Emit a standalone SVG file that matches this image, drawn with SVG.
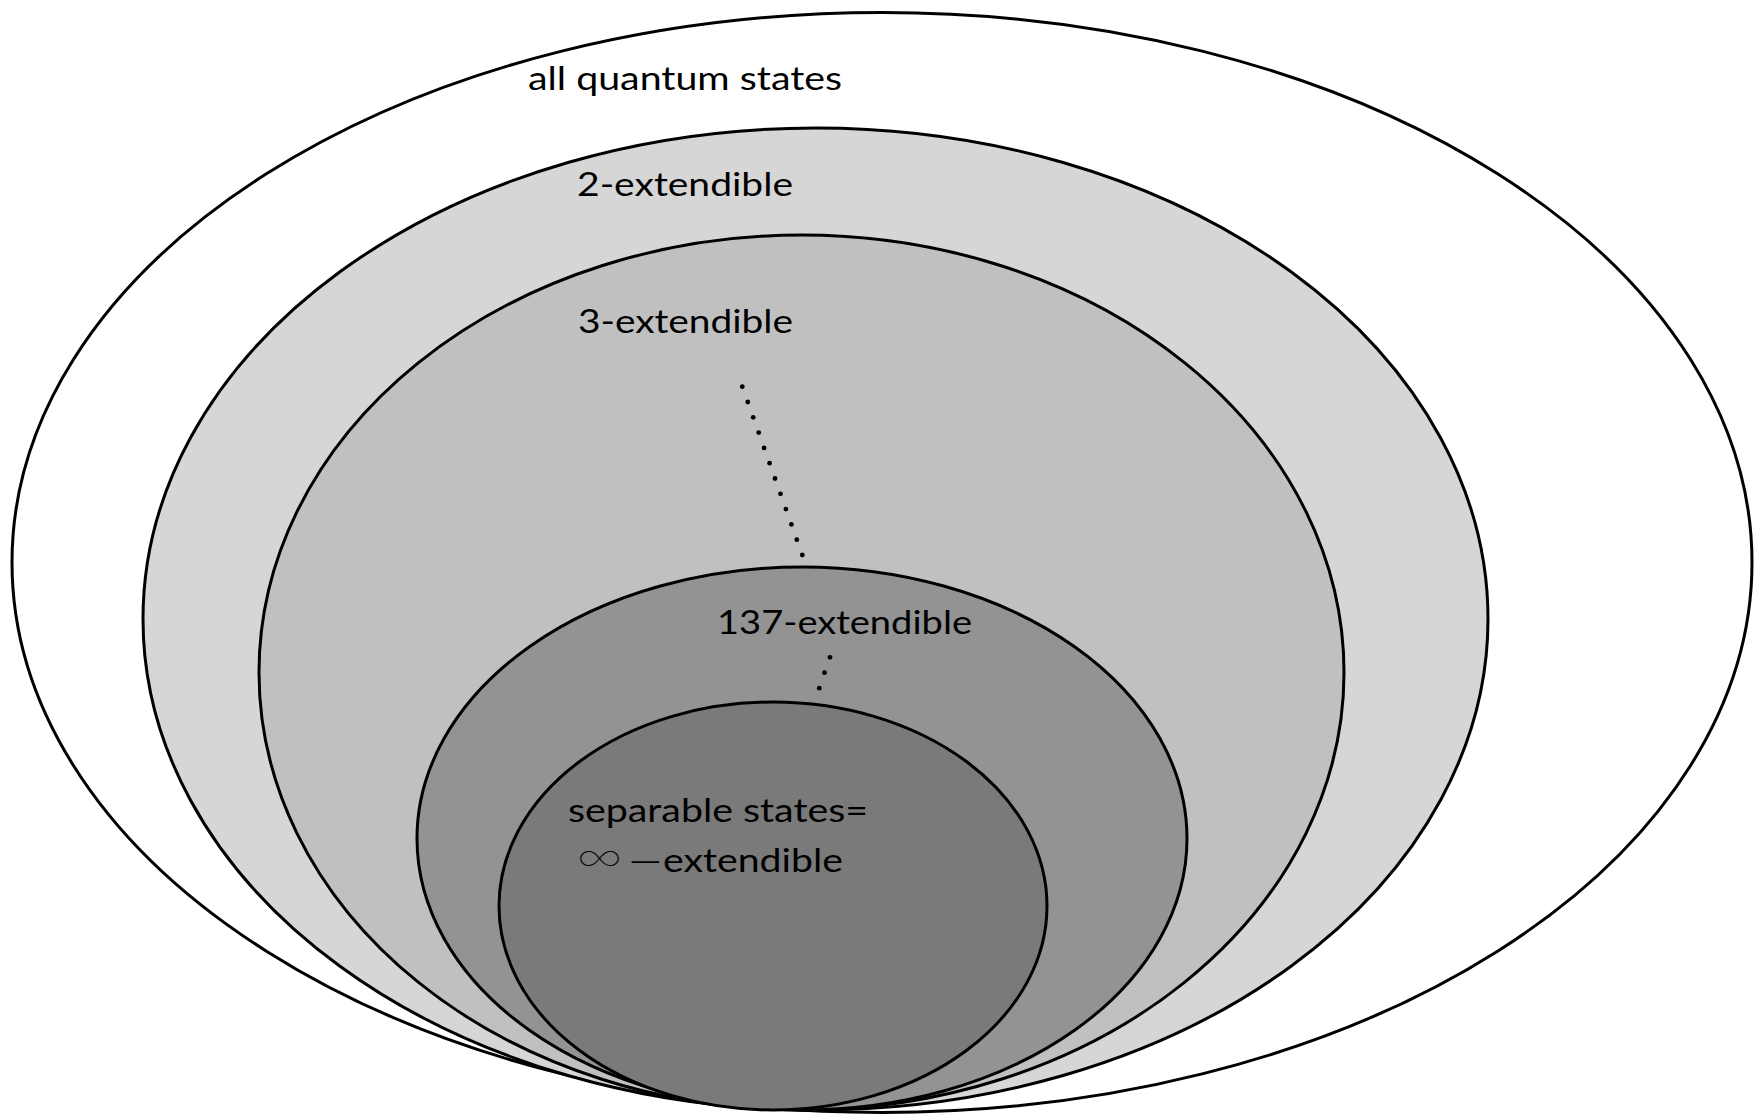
<svg xmlns="http://www.w3.org/2000/svg" width="1762" height="1117" viewBox="0 0 1762 1117">
<style>
.set{stroke:#000;stroke-width:3}
.lbl{font-family:"Lato","Open Sans","Liberation Sans",sans-serif;font-size:32px;fill:#000}
.sym{font-family:"Inter","Noto Sans","DejaVu Sans",sans-serif;font-weight:100}
.dash{font-family:"DejaVu Sans","Liberation Sans",sans-serif;font-weight:200}
.dot{fill:#000}
</style>
<rect width="1762" height="1117" fill="#fff"/>
<g id="all-quantum-states">
<ellipse class="set" cx="882" cy="562.5" rx="870" ry="550" fill="#fff"/>
<text class="lbl" x="528" y="90" textLength="314" lengthAdjust="spacingAndGlyphs">all quantum states</text>
</g>
<g id="two-extendible">
<ellipse class="set" cx="815.5" cy="619" rx="672.5" ry="491" fill="#d6d6d6"/>
<text class="lbl" x="577" y="196" textLength="216" lengthAdjust="spacingAndGlyphs">2-extendible</text>
</g>
<g id="three-extendible">
<ellipse class="set" cx="801.5" cy="672.5" rx="542.5" ry="437.5" fill="#c0c0c0"/>
<text class="lbl" x="578" y="333" textLength="215" lengthAdjust="spacingAndGlyphs">3-extendible</text>
</g>
<g id="n137-extendible">
<ellipse class="set" cx="802" cy="838.5" rx="385" ry="271.5" fill="#939393"/>
<text class="lbl" x="717" y="634" textLength="255" lengthAdjust="spacingAndGlyphs">137-extendible</text>
</g>
<g id="separable-states">
<ellipse class="set" cx="773" cy="906" rx="274" ry="204" fill="#7a7a7a"/>
<text class="lbl" x="568" y="822" textLength="300" lengthAdjust="spacingAndGlyphs">separable states=</text>
<text class="lbl" y="872"><tspan class="sym" x="577" font-size="44" textLength="45" lengthAdjust="spacingAndGlyphs">∞</tspan><tspan class="dash" x="627" font-size="44" dy="4">−</tspan><tspan x="663" dy="-4" textLength="180" lengthAdjust="spacingAndGlyphs">extendible</tspan></text>
</g>
<g id="connectors">
<circle class="dot" cx="742.3" cy="386.7" r="2.4"/>
<circle class="dot" cx="747.8" cy="402" r="2.4"/>
<circle class="dot" cx="753.2" cy="417.3" r="2.4"/>
<circle class="dot" cx="758.7" cy="432.6" r="2.4"/>
<circle class="dot" cx="764.1" cy="447.9" r="2.4"/>
<circle class="dot" cx="769.6" cy="463.2" r="2.4"/>
<circle class="dot" cx="775" cy="478.5" r="2.4"/>
<circle class="dot" cx="780.5" cy="493.8" r="2.4"/>
<circle class="dot" cx="785.9" cy="509.1" r="2.4"/>
<circle class="dot" cx="791.4" cy="524.4" r="2.4"/>
<circle class="dot" cx="796.8" cy="539.7" r="2.4"/>
<circle class="dot" cx="802.3" cy="555" r="2.4"/>
<circle class="dot" cx="830" cy="657.3" r="2.4"/>
<circle class="dot" cx="824.5" cy="672.7" r="2.4"/>
<circle class="dot" cx="819.3" cy="688.2" r="2.4"/>
</g>
</svg>
